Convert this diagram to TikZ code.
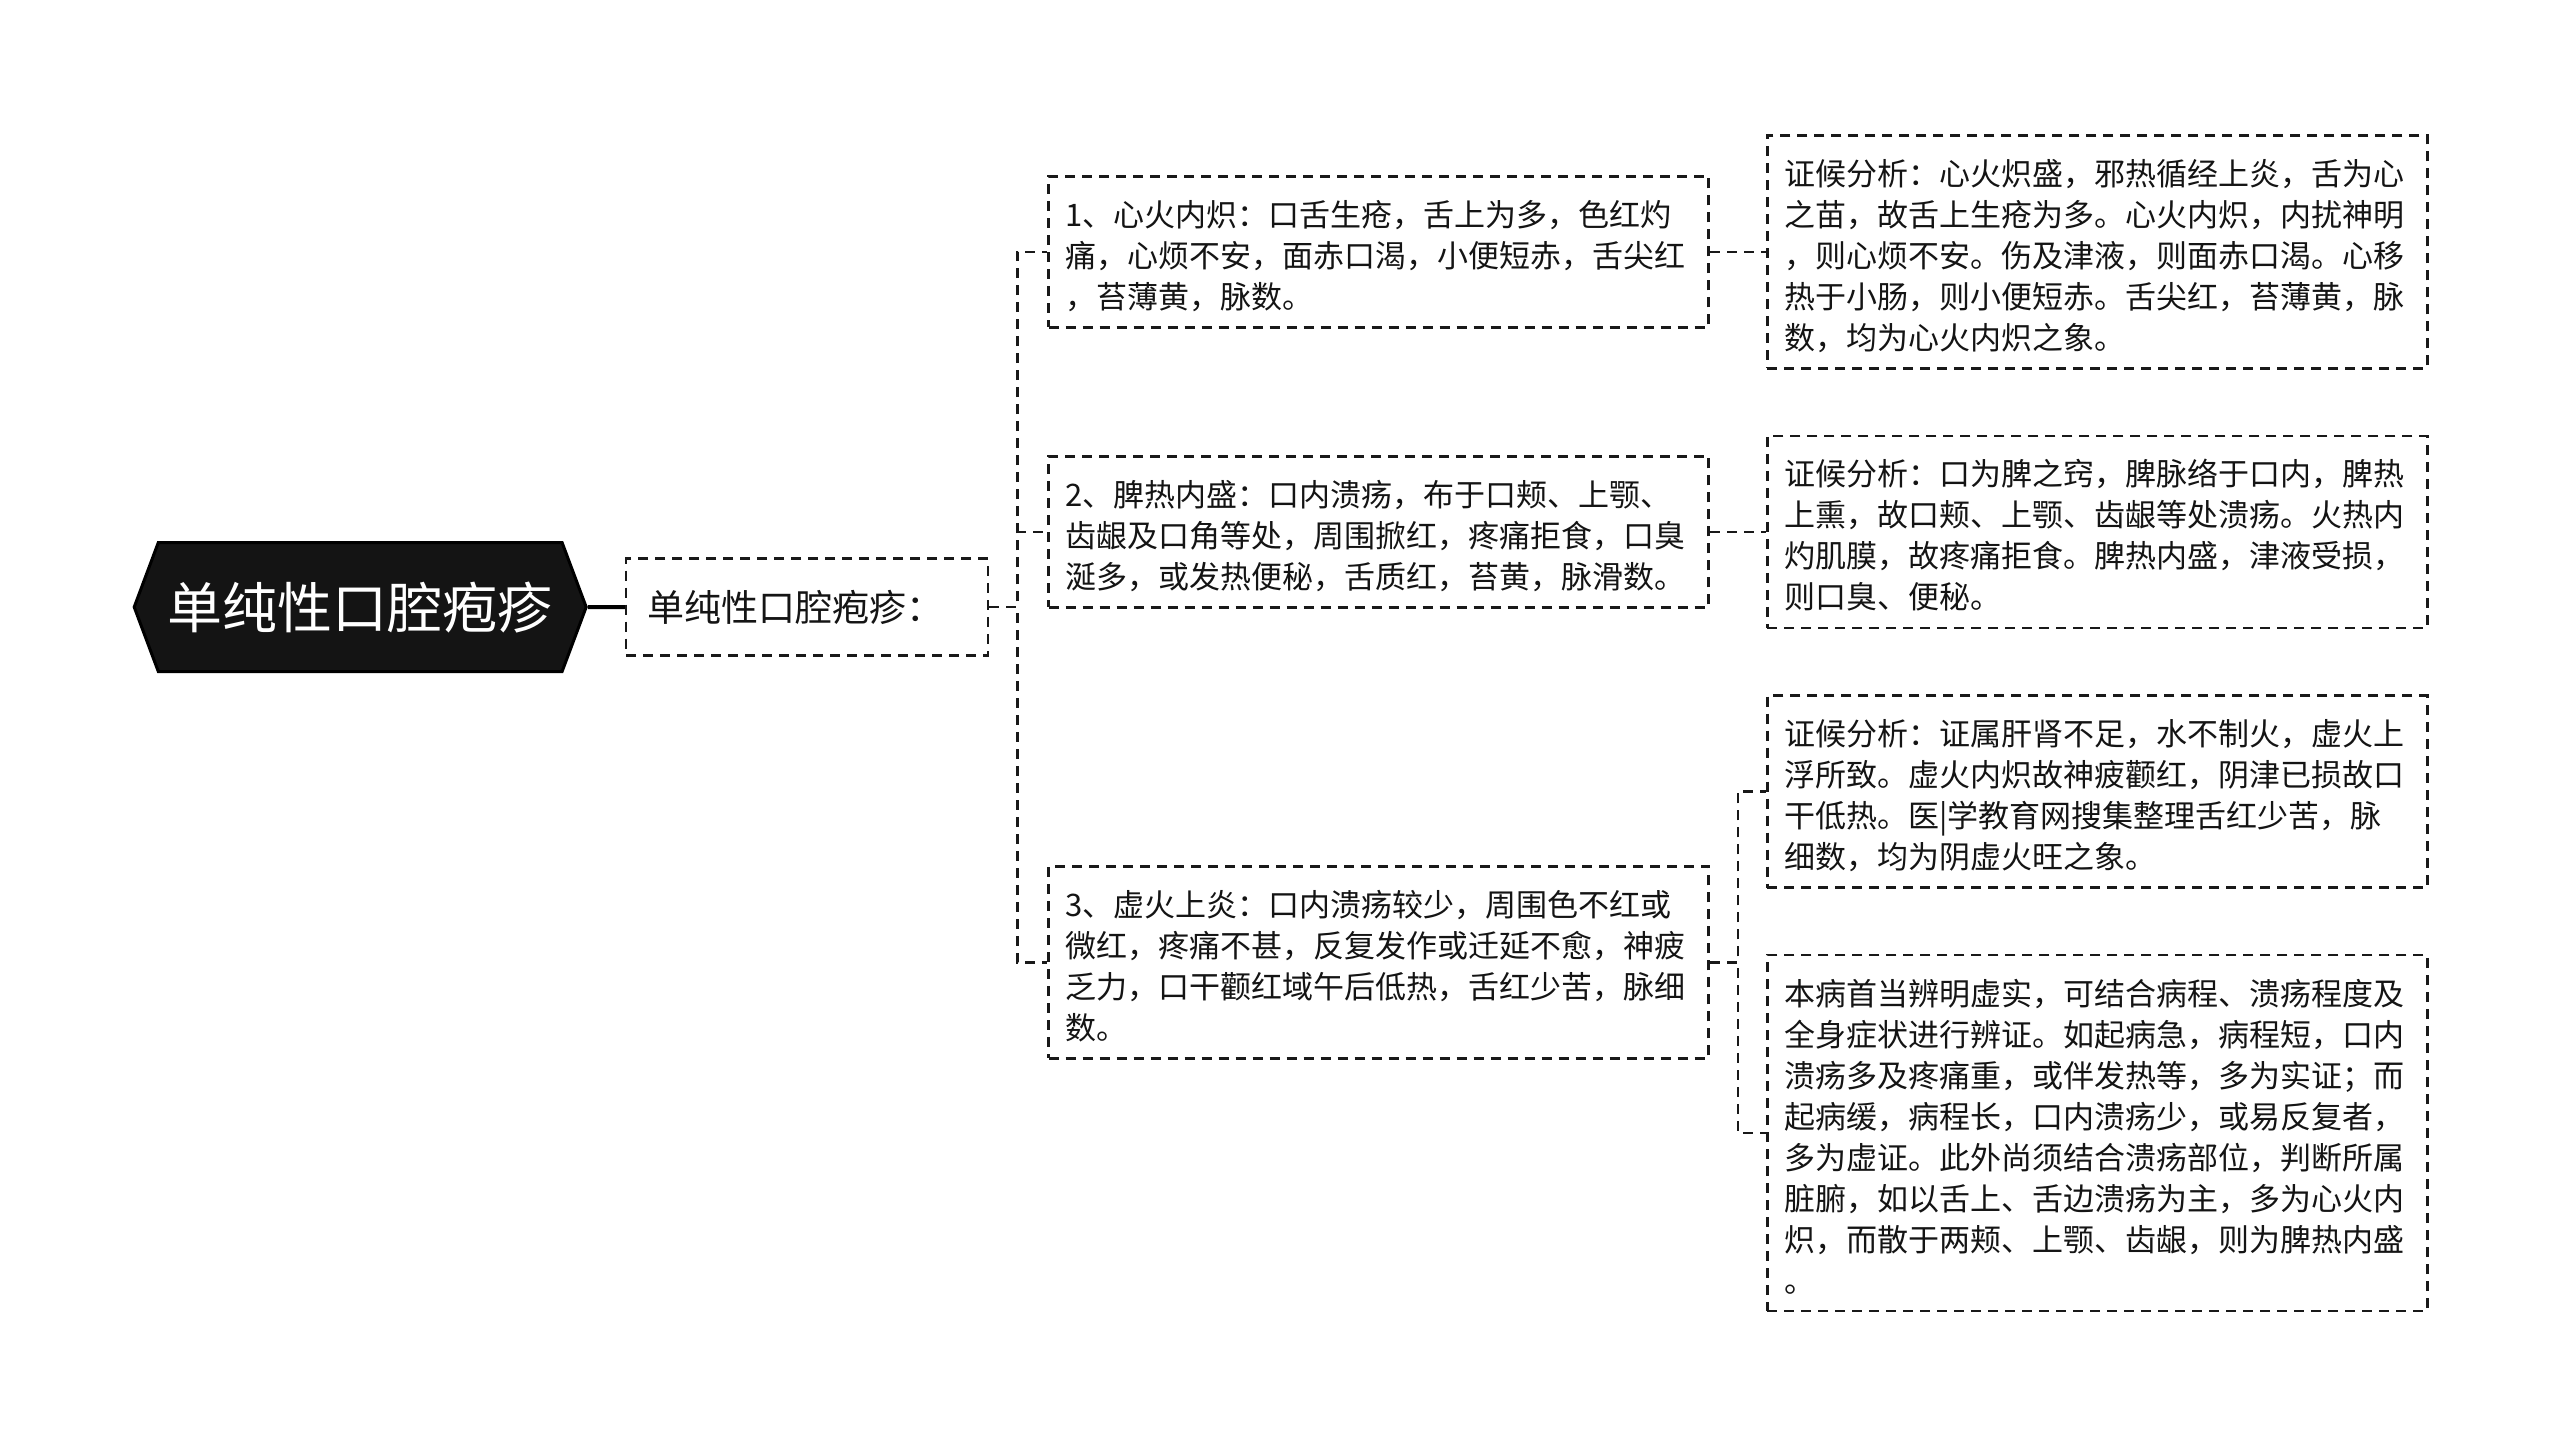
\documentclass[tikz,border=0pt]{standalone}
\usepackage{fontspec}
\newfontfamily\cjk{Noto Sans CJK SC}
\usepackage{tikz}
\usetikzlibrary{positioning,calc,shapes.symbols}

\begin{document}
\begin{tikzpicture}[
        x=1pt, y=1pt,
        node distance=65pt,
        root/.style={signal, signal to=west and east, signal pointer angle=139, fill=black!92, draw=black, line width=3pt, minimum width=452pt, minimum height=129pt, inner sep=0pt, text=white, font=\cjk\fontsize{55}{60}\selectfont},
        lead/.style={draw=black!90, line width=2.6pt, dash pattern=on 10pt off 7pt, text=black!92, text width=320pt, align=left, inner xsep=21pt, inner ysep=0pt, minimum height=97pt, font=\cjk\fontsize{37}{44}\selectfont},
        item/.style={draw=black!90, line width=2.6pt, dash pattern=on 10pt off 7pt, text=black!92, text width=626pt, align=left, inner xsep=17pt, inner ysep=4pt, font=\cjk\fontsize{31}{41}\selectfont,
            execute at begin node={\rule{0pt}{46pt}}, execute at end node={\rule[-15pt]{0pt}{15pt}}},
        link/.style={draw=black!90, line width=2.6pt, dash pattern=on 10pt off 7pt},
        stem/.style={draw=black, line width=4pt}
    ]
    \useasboundingbox (0,0) rectangle (2560,-1446);

    % analysis column
    \node[item, anchor=north west] (b1) at (1766,-134) {证候分析：心火炽盛，邪热循经上炎，舌为心\\之苗，故舌上生疮为多。心火内炽，内扰神明\\，则心烦不安。伤及津液，则面赤口渴。心移\\热于小肠，则小便短赤。舌尖红，苔薄黄，脉\\数，均为心火内炽之象。};
    \node[item, below=of b1] (b2) {证候分析：口为脾之窍，脾脉络于口内，脾热\\上熏，故口颊、上颚、齿龈等处溃疡。火热内\\灼肌膜，故疼痛拒食。脾热内盛，津液受损，\\则口臭、便秘。};
    \node[item, below=of b2] (b3) {证候分析：证属肝肾不足，水不制火，虚火上\\浮所致。虚火内炽故神疲颧红，阴津已损故口\\干低热。医|学教育网搜集整理舌红少苦，脉\\细数，均为阴虚火旺之象。};
    \node[item, below=of b3] (b4) {本病首当辨明虚实，可结合病程、溃疡程度及\\全身症状进行辨证。如起病急，病程短，口内\\溃疡多及疼痛重，或伴发热等，多为实证；而\\起病缓，病程长，口内溃疡少，或易反复者，\\多为虚证。此外尚须结合溃疡部位，判断所属\\脏腑，如以舌上、舌边溃疡为主，多为心火内\\炽，而散于两颊、上颚、齿龈，则为脾热内盛\\。};

    % symptom column
    \node[item, left=56pt of b1] (a1) {1、心火内炽：口舌生疮，舌上为多，色红灼\\痛，心烦不安，面赤口渴，小便短赤，舌尖红\\，苔薄黄，脉数。};
    \node[item, left=56pt of b2] (a2) {2、脾热内盛：口内溃疡，布于口颊、上颚、\\齿龈及口角等处，周围掀红，疼痛拒食，口臭\\涎多，或发热便秘，舌质红，苔黄，脉滑数。};
    \coordinate (m34) at ($(b3.west)!0.5!(b4.west)$);
    \node[item, left=56pt of m34] (a3) {3、虚火上炎：口内溃疡较少，周围色不红或\\微红，疼痛不甚，反复发作或迁延不愈，神疲\\乏力，口干颧红域午后低热，舌红少苦，脉细\\数。};

    \coordinate (m13) at ($(a1.west)!0.5!(a3.west)$);
    \node[lead, left=58pt of m13] (lead) {单纯性口腔疱疹：};
    \node[root, left=37pt of lead] (root) {单纯性口腔疱疹\hspace{14pt}};

    \draw[stem] (root) -- (lead);
    \draw[link] (lead.east) -- ++(28,0) |- (a1);
    \draw[link] (lead.east) -- ++(28,0) |- (a2);
    \draw[link] (lead.east) -- ++(28,0) |- (a3);
    \draw[link] (a1) -- (b1);
    \draw[link] (a2) -- (b2);
    \draw[link] (a3.east) -- ++(28,0) |- (b3);
    \draw[link] (a3.east) -- ++(28,0) |- (b4);
\end{tikzpicture}
\end{document}
